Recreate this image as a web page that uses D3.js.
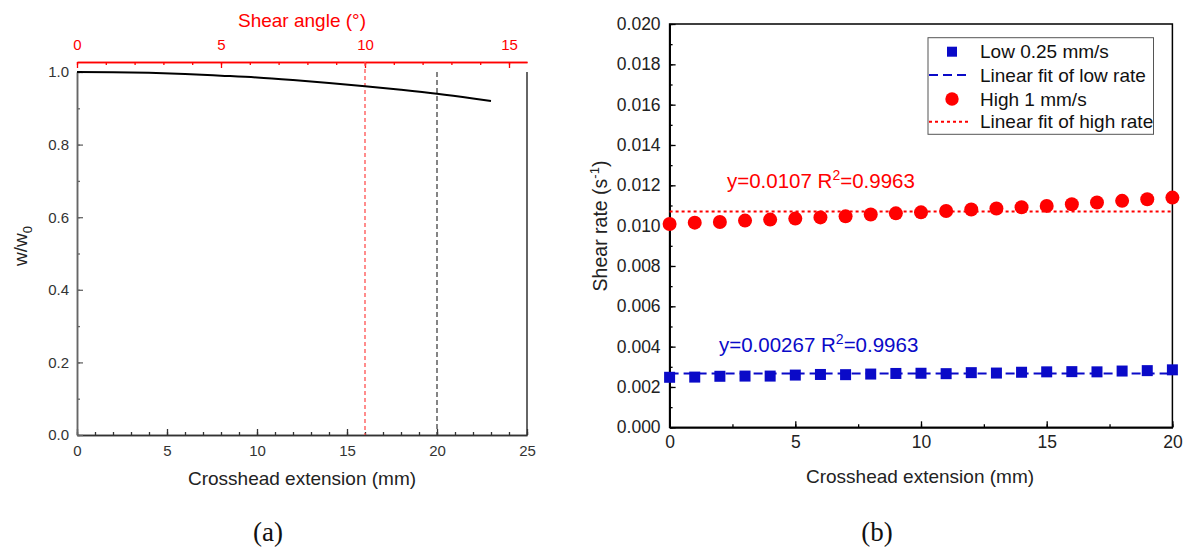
<!DOCTYPE html>
<html>
<head>
<meta charset="utf-8">
<script src="https://cdn.jsdelivr.net/npm/d3@7"></script>
<style>
  html, body { margin: 0; padding: 0; background: #fff; }
  svg { display: block; }
</style>
</head>
<body>
<svg id="fig" width="1192" height="551" font-family="Liberation Sans, Arial, sans-serif"></svg>
<script>
// ---- Panel (a): width ratio vs crosshead extension ----
const extensionA = [0, 2, 4, 6, 8, 10, 12, 14, 16, 18, 20, 22, 23];
const widthRatio = [1.000, 0.9994, 0.9976, 0.9946, 0.990, 0.985, 0.978, 0.970, 0.961, 0.951, 0.940, 0.927, 0.920];
const markerRed = 16;    // extension at 10° shear angle
const markerBlack = 20;
const ticksExtA = [0, 5, 10, 15, 20, 25];
const ticksRatio = [0, 0.2, 0.4, 0.6, 0.8, 1.0];
const ticksAngle = [0, 5, 10, 15];

// ---- Panel (b): shear rate vs crosshead extension ----
const extensionB = [0,1,2,3,4,5,6,7,8,9,10,11,12,13,14,15,16,17,18,19,20];
const lowRate = [0.00248,0.00249,0.00253,0.00254,0.00254,0.00259,0.00262,0.00261,0.00264,0.00267,0.00268,0.00266,0.00271,0.00269,0.00273,0.00275,0.00276,0.00275,0.00279,0.00281,0.00285];
const highRate = [0.01008,0.01015,0.01018,0.01025,0.01030,0.01035,0.01041,0.01046,0.01055,0.01061,0.01066,0.01073,0.01080,0.01085,0.01091,0.01098,0.01106,0.01115,0.01123,0.01131,0.01139];
const lowFit = 0.00267, highFit = 0.0107, rSquared = 0.9963;
const ticksExtB = [0, 5, 10, 15, 20];
const ticksRate = [0,0.002,0.004,0.006,0.008,0.010,0.012,0.014,0.016,0.018,0.020];
const legendLabels = ["Low 0.25 mm/s", "Linear fit of low rate", "High 1 mm/s", "Linear fit of high rate"];

const BLUE = "#0a0ac8", RED = "#ff0000";
const SANS = "Liberation Sans, Arial, sans-serif";
const SERIF = "Liberation Serif, Times New Roman, serif";
const svg = d3.select("#fig");

function styleAxis(g, color, fontSize) {
  g.attr("font-family", SANS);
  g.selectAll("path").attr("stroke", color).attr("stroke-width", 1.5);
  g.selectAll("line").attr("stroke", color).attr("stroke-width", 1.3);
  g.selectAll("text").attr("fill", color).attr("font-size", fontSize);
}
function range(a, b, s) { const r = []; for (let v = a; v <= b + 1e-9; v += s) r.push(+v.toFixed(6)); return r; }

// ================= Panel (a) =================
const xA = d3.scaleLinear().domain([0, 25]).range([77, 527]);
const yA = d3.scaleLinear().domain([0, 1]).range([435, 72]);
const angle = d3.scaleLinear().domain([0, 25 * 10 / 16]).range([77, 527]);
const gA = svg.append("g");

// minor ticks
gA.append("g").attr("transform", "translate(0,435)")
  .call(d3.axisBottom(xA).tickValues(range(0, 25, 1)).tickSizeInner(-3).tickSizeOuter(0).tickFormat(""))
  .call(g => styleAxis(g, "#333", 15));
gA.append("g").attr("transform", "translate(77,0)")
  .call(d3.axisLeft(yA).tickValues(range(0, 1, 0.1)).tickSizeInner(-3).tickSizeOuter(0).tickFormat(""))
  .call(g => styleAxis(g, "#666", 15));
gA.append("g").attr("transform", "translate(0,62)")
  .call(d3.axisTop(angle).tickValues(range(0, 15, 1)).tickSizeInner(-3).tickSizeOuter(0).tickFormat(""))
  .call(g => styleAxis(g, RED, 15));
// major ticks with labels
gA.append("g").attr("transform", "translate(0,435)")
  .call(d3.axisBottom(xA).tickValues(ticksExtA).tickSizeInner(-6).tickSizeOuter(0).tickPadding(10).tickFormat(d3.format("d")))
  .call(g => styleAxis(g, "#333", 15));
gA.append("g").attr("transform", "translate(77,0)")
  .call(d3.axisLeft(yA).tickValues(ticksRatio).tickSizeInner(-6).tickSizeOuter(0).tickPadding(8).tickFormat(d3.format(".1f")))
  .call(g => styleAxis(g, "#666", 15))
  .call(g => g.selectAll("text").attr("fill", "#333"));
gA.append("g").attr("transform", "translate(0,62)")
  .call(d3.axisTop(angle).tickValues(ticksAngle).tickSizeInner(-6).tickSizeOuter(0).tickPadding(12).tickFormat(d3.format("d")))
  .call(g => styleAxis(g, RED, 15));
// right border
gA.append("line").attr("x1", xA(25)).attr("x2", xA(25)).attr("y1", yA(1)).attr("y2", yA(0))
  .attr("stroke", "#333").attr("stroke-width", 1.5);

// reference lines
gA.append("line").attr("x1", xA(markerRed)).attr("x2", xA(markerRed)).attr("y1", 62).attr("y2", yA(0))
  .attr("stroke", "#ff5050").attr("stroke-width", 1.3).attr("stroke-dasharray", "4,3");
gA.append("line").attr("x1", xA(markerBlack)).attr("x2", xA(markerBlack)).attr("y1", yA(1)).attr("y2", yA(0))
  .attr("stroke", "#444").attr("stroke-width", 1.3).attr("stroke-dasharray", "5,3");

// curve
gA.append("path")
  .datum(extensionA.map((x, i) => [x, widthRatio[i]]))
  .attr("fill", "none").attr("stroke", "#000").attr("stroke-width", 2)
  .attr("d", d3.line().x(d => xA(d[0])).y(d => yA(d[1])).curve(d3.curveMonotoneX));

// titles
gA.append("text").attr("x", 302).attr("y", 485).attr("text-anchor", "middle")
  .attr("font-size", 19).attr("fill", "#222").text("Crosshead extension (mm)");
gA.append("text").attr("x", 302).attr("y", 27).attr("text-anchor", "middle")
  .attr("font-size", 19).attr("fill", RED).text("Shear angle (°)");
const wt = gA.append("text").attr("transform", "translate(27,246) rotate(-90)").attr("text-anchor", "middle")
  .attr("font-size", 19).attr("fill", "#222");
wt.append("tspan").text("w/w");
wt.append("tspan").attr("font-size", 13).attr("dy", 5).text("0");
gA.append("text").attr("x", 268).attr("y", 541).attr("text-anchor", "middle")
  .attr("font-family", SERIF).attr("font-size", 27).attr("fill", "#111").text("(a)");

// ================= Panel (b) =================
const xB = d3.scaleLinear().domain([0, 20]).range([669.6, 1172.4]);
const yB = d3.scaleLinear().domain([0, 0.02]).range([427.3, 24]);
const gB = svg.append("g");

// minor ticks
gB.append("g").attr("transform", "translate(0,427.3)")
  .call(d3.axisBottom(xB).tickValues(range(0, 20, 2.5)).tickSizeInner(-3).tickSizeOuter(0).tickFormat(""))
  .call(g => styleAxis(g, "#000", 17.5));
gB.append("g").attr("transform", "translate(669.6,0)")
  .call(d3.axisLeft(yB).tickValues(range(0, 0.02, 0.001)).tickSizeInner(-3).tickSizeOuter(0).tickFormat(""))
  .call(g => styleAxis(g, "#000", 17.5));
// major ticks
gB.append("g").attr("transform", "translate(0,427.3)")
  .call(d3.axisBottom(xB).tickValues(ticksExtB).tickSizeInner(-6).tickSizeOuter(0).tickPadding(8).tickFormat(d3.format("d")))
  .call(g => styleAxis(g, "#000", 17.5))
  .call(g => g.selectAll("text").attr("fill", "#222"));
gB.append("g").attr("transform", "translate(669.6,0)")
  .call(d3.axisLeft(yB).tickValues(ticksRate).tickSizeInner(-6).tickSizeOuter(0).tickPadding(9).tickFormat(d3.format(".3f")))
  .call(g => styleAxis(g, "#000", 17.5))
  .call(g => g.selectAll("text").attr("fill", "#222"));
// frame
gB.append("rect").attr("x", xB(0)).attr("y", yB(0.02)).attr("width", xB(20) - xB(0)).attr("height", yB(0) - yB(0.02))
  .attr("fill", "none").attr("stroke", "#000").attr("stroke-width", 1.5);

// fit lines
gB.append("line").attr("x1", xB(0)).attr("x2", xB(20)).attr("y1", yB(lowFit)).attr("y2", yB(lowFit))
  .attr("stroke", BLUE).attr("stroke-width", 2).attr("stroke-dasharray", "9,5");
gB.append("line").attr("x1", xB(0)).attr("x2", xB(20)).attr("y1", yB(highFit)).attr("y2", yB(highFit))
  .attr("stroke", RED).attr("stroke-width", 2).attr("stroke-dasharray", "3,3");

// markers
const sq = 11;
gB.selectAll("rect.low").data(extensionB.map((x, i) => [x, lowRate[i]])).join("rect").attr("class", "low")
  .attr("x", d => xB(d[0]) - sq / 2).attr("y", d => yB(d[1]) - sq / 2).attr("width", sq).attr("height", sq)
  .attr("fill", BLUE);
gB.selectAll("circle.high").data(extensionB.map((x, i) => [x, highRate[i]])).join("circle").attr("class", "high")
  .attr("cx", d => xB(d[0])).attr("cy", d => yB(d[1])).attr("r", 7).attr("fill", RED);

// fit annotations
function fitLabel(x, y, coef, color) {
  const t = gB.append("text").attr("x", x).attr("y", y).attr("font-size", 20.5).attr("fill", color);
  t.append("tspan").text("y=" + coef + " R");
  t.append("tspan").attr("font-size", 14).attr("dy", -8).text("2");
  t.append("tspan").attr("dy", 8).text("=" + rSquared);
}
fitLabel(727, 188, highFit, RED);
fitLabel(719, 352, lowFit, BLUE);

// legend
const lg = gB.append("g");
lg.append("rect").attr("x", 928).attr("y", 37.7).attr("width", 225.5).attr("height", 96.6)
  .attr("fill", "#fff").attr("stroke", "#555").attr("stroke-width", 1);
const rowsY = [51.7, 75, 99, 121.7];
lg.append("rect").attr("x", 952 - 5).attr("y", rowsY[0] - 5).attr("width", 10).attr("height", 10).attr("fill", BLUE);
lg.append("line").attr("x1", 929).attr("x2", 970).attr("y1", rowsY[1]).attr("y2", rowsY[1])
  .attr("stroke", BLUE).attr("stroke-width", 2).attr("stroke-dasharray", "9,5");
lg.append("circle").attr("cx", 952).attr("cy", rowsY[2]).attr("r", 6.7).attr("fill", RED);
lg.append("line").attr("x1", 929).attr("x2", 970).attr("y1", rowsY[3]).attr("y2", rowsY[3])
  .attr("stroke", RED).attr("stroke-width", 2).attr("stroke-dasharray", "3,3");
lg.selectAll("text.lab").data(legendLabels).join("text").attr("class", "lab")
  .attr("x", 980).attr("y", (d, i) => rowsY[i] + 6.5).attr("font-size", 19).attr("fill", "#111").text(d => d);

// titles
gB.append("text").attr("x", 920).attr("y", 483).attr("text-anchor", "middle")
  .attr("font-size", 19).attr("fill", "#222").text("Crosshead extension (mm)");
const st = gB.append("text").attr("transform", "translate(607,226) rotate(-90)").attr("text-anchor", "middle")
  .attr("font-size", 19.5).attr("fill", "#222");
st.append("tspan").text("Shear rate (s");
st.append("tspan").attr("font-size", 13).attr("dy", -8).text("-1");
st.append("tspan").attr("dy", 8).text(")");
gB.append("text").attr("x", 877).attr("y", 541).attr("text-anchor", "middle")
  .attr("font-family", SERIF).attr("font-size", 27).attr("fill", "#111").text("(b)");
</script>
</body>
</html>
